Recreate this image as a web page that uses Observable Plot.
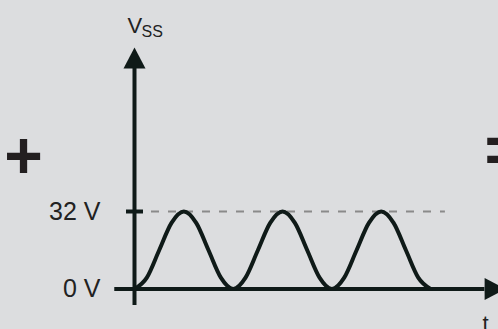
<!DOCTYPE html>
<html><head><meta charset="utf-8">
<script src="https://cdn.jsdelivr.net/npm/d3@7"></script>
<script src="https://cdn.jsdelivr.net/npm/@observablehq/plot@0.6"></script>
<style>html,body{margin:0;padding:0;background:#dcdddf;overflow:hidden}</style>
</head><body><div id="chart"></div>
<script>
// time in periods, voltage in V
const sampleT = [0,0.125,0.25,0.375,0.5,0.625,0.75,0.875,1,1.125,1.25,1.375,1.5,1.625,1.75,1.875,2,2.125,2.25,2.375,2.5,2.625,2.75,2.875,3];
const sampleV = [0,4.7,16,27.3,32,27.3,16,4.7,0,4.7,16,27.3,32,27.3,16,4.7,0,4.7,16,27.3,32,27.3,16,4.7,0];
const tickValues = [0, 32];
const tickLabels = ["0 V", "32 V"];
const yAxisLabel = "V", yAxisSub = "SS", xAxisLabel = "t";
const leftSign = "+", rightSign = "=";
const peakLevel = 32;
const dashEndT = 3.15;
const tickSpan = [-0.081, 0.091];
const xAxisRange = [-0.2, 3.55];
const yAxisRange = [-6.8, 91.9];
const xArrowTip = 3.76, yArrowTip = 99.7;

const wave = sampleT.map((t, i) => ({t, v: sampleV[i]}));
const ticks = tickValues.map((v, i) => ({v, label: tickLabels[i]}));

const ink = "#0f1a18";
const textInk = "#222222";
const arrowHead = {draw(ctx) { ctx.moveTo(0, 0); ctx.lineTo(11, 21); ctx.lineTo(-11, 21); ctx.closePath(); }};

const plot = Plot.plot({
  width: 498, height: 329, margin: 0,
  style: {background: "#dcdddf", fontFamily: "Liberation Sans, Arial, sans-serif"},
  x: {domain: [-1.3577, 3.688], axis: null},
  y: {domain: [-16.72, 119.12], axis: null},
  marks: [
    Plot.ruleY([peakLevel], {x1: 0, x2: dashEndT, stroke: "#8a8a8a", strokeWidth: 2, strokeDasharray: "8,9"}),
    Plot.ruleY(ticks.filter(d => d.v !== 0), {y: "v", x1: tickSpan[0], x2: tickSpan[1], stroke: ink, strokeWidth: 4}),
    Plot.ruleY([0], {x1: xAxisRange[0], x2: xAxisRange[1], stroke: ink, strokeWidth: 4}),
    Plot.ruleX([0], {y1: yAxisRange[0], y2: yAxisRange[1], stroke: ink, strokeWidth: 4}),
    Plot.dot([{x: 0, y: yArrowTip}], {x: "x", y: "y", symbol: arrowHead, r: 8, fill: ink, stroke: null}),
    Plot.dot([{x: xArrowTip, y: 0}], {x: "x", y: "y", symbol: arrowHead, r: 8, rotate: 90, fill: ink, stroke: null}),
    Plot.line(wave, {x: "t", y: "v", curve: "monotone-x", stroke: ink, strokeWidth: 4}),
    Plot.text(ticks, {x: 0, y: "v", text: "label", textAnchor: "end", dx: -34, fontSize: 25, fill: textInk}),
    Plot.text([yAxisLabel], {x: 0, y: yArrowTip, dx: -7, dy: -15, textAnchor: "start", lineAnchor: "bottom", fontSize: 22, fill: textInk}),
    Plot.text([yAxisSub], {x: 0, y: yArrowTip, dx: 7, dy: -11, textAnchor: "start", lineAnchor: "bottom", fontSize: 16, fill: textInk}),
    Plot.text([xAxisLabel], {x: xArrowTip, y: 0, dx: -20, dy: 42, textAnchor: "middle", lineAnchor: "bottom", fontSize: 22, fill: textInk}),
    Plot.text([leftSign], {frameAnchor: "top-left", dx: 23, dy: 177, textAnchor: "middle", lineAnchor: "bottom", fontSize: 66, fontWeight: "bold", fill: "#231f20"}),
    Plot.text([rightSign], {frameAnchor: "top-left", dx: 484, dy: 172.5, textAnchor: "start", lineAnchor: "bottom", fontSize: 66, fontWeight: "bold", fill: "#231f20"})
  ]
});
document.getElementById("chart").appendChild(plot);
</script>
</body></html>
